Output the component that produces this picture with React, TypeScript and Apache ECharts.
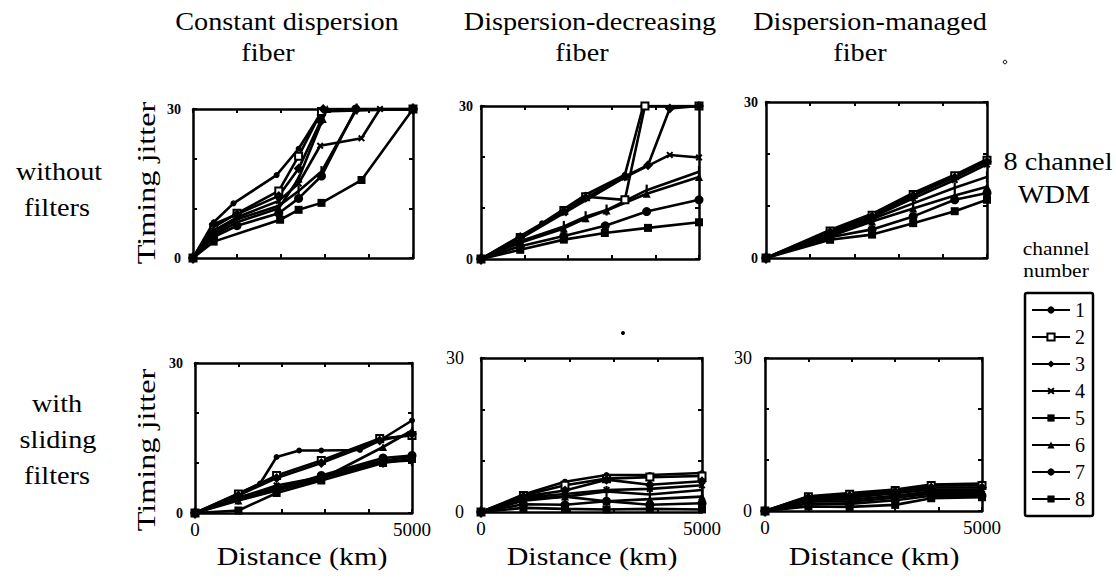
import React, { useEffect, useRef } from "react";
import * as echarts from "echarts";

// ---------- data ----------
const channels = ["1", "2", "3", "4", "5", "6", "7", "8"];
const xTickLabels = ["0", "5000"];
const yTickLabels = ["0", "30"];

const columnTitles = [
  ["Constant dispersion", "fiber"],
  ["Dispersion-decreasing", "fiber"],
  ["Dispersion-managed", "fiber"],
];
const rowTitles = [
  ["without", "filters"],
  ["with", "sliding", "filters"],
];

// [distance km, timing jitter] per channel
const constantNoFilter = [
  [[0, 0], [470, 7.2], [920, 11], [1900, 16.7], [2400, 22], [2880, 28.8], [2950, 30], [5000, 30]],
  [[0, 0], [470, 6.2], [1000, 9], [1950, 13.5], [2400, 20.5], [2920, 29.5], [5000, 30]],
  [[0, 0], [470, 6.8], [1000, 8.8], [1950, 12.5], [2400, 18], [2900, 27.5], [2960, 30], [5000, 30]],
  [[0, 0], [470, 5.5], [1000, 8.2], [1950, 11.5], [2400, 15], [2890, 22.6], [3830, 24.1], [4250, 30], [5000, 30]],
  [[0, 0], [470, 5], [1000, 7.8], [1950, 10.5], [2400, 13.5], [2920, 17.4], [3720, 30], [5000, 30]],
  [[0, 0], [470, 4.5], [1000, 7.2], [1950, 10], [2400, 16], [2950, 28], [3050, 30], [5000, 30]],
  [[0, 0], [470, 4.2], [1000, 6.5], [1950, 9], [2400, 12], [2920, 16.5], [3700, 30], [5000, 30]],
  [[0, 0], [470, 3.3], [1980, 7.7], [2400, 9.7], [2920, 11.1], [3830, 15.7], [5000, 30]],
];
const decreasingNoFilter = [
  [[0, 0], [900, 4.5], [1400, 7], [1900, 9.8], [2400, 12.6], [3300, 16.5], [3720, 30], [5000, 30]],
  [[0, 0], [900, 4.2], [1900, 9.5], [2400, 12.2], [3300, 11.6], [3760, 30], [5000, 30]],
  [[0, 0], [900, 4.3], [1900, 9.4], [2400, 12], [3300, 16.2], [3830, 18.4], [4330, 29.5], [5000, 30]],
  [[0, 0], [900, 4], [1900, 9], [3300, 16], [4330, 20.4], [5000, 19.9]],
  [[0, 0], [900, 3.5], [1900, 6.4], [2400, 8.3], [2880, 9.6], [3800, 13.5], [5000, 17.1]],
  [[0, 0], [900, 3.2], [1900, 6], [2400, 8], [2880, 9.5], [3800, 12.8], [5000, 16.1]],
  [[0, 0], [900, 2.5], [1900, 4.5], [2850, 6.5], [3800, 9.3], [5000, 11.6]],
  [[0, 0], [900, 1.8], [1900, 3.8], [2840, 5.1], [3830, 6.1], [5000, 7.2]],
];
const managedNoFilter = [
  [[0, 0], [1450, 5.4], [2400, 8.5], [3330, 12.5], [4270, 16], [5000, 19]],
  [[0, 0], [1450, 5.2], [2400, 8.2], [3330, 12.2], [4270, 15.8], [5000, 18.8]],
  [[0, 0], [1450, 5], [2400, 8], [3330, 12], [4270, 15.5], [5000, 18.5]],
  [[0, 0], [1450, 4.8], [2400, 7.8], [3330, 11.5], [4270, 15], [5000, 18]],
  [[0, 0], [1450, 4.5], [2400, 7.5], [3330, 10.5], [4270, 13.5], [5000, 15.6]],
  [[0, 0], [1450, 4.2], [2400, 7], [3330, 9.5], [4270, 12], [5000, 13.7]],
  [[0, 0], [1450, 4], [2400, 5.5], [3330, 8], [4270, 11.2], [5000, 12.5]],
  [[0, 0], [1450, 3.5], [2400, 4.5], [3330, 6.7], [4270, 9], [5000, 11.2]],
];
const constantSliding = [
  [[0, 0], [1000, 3.9], [1500, 5.9], [1880, 11.2], [2400, 12.5], [2910, 12.5], [3800, 12.6], [4256, 14.5], [5000, 18.5]],
  [[0, 0], [1000, 3.8], [1880, 7.5], [2910, 10.5], [4256, 14.9], [5000, 15.5]],
  [[0, 0], [1000, 3.5], [1880, 7], [2910, 10], [4256, 14.5], [5000, 15.8]],
  [[0, 0], [1000, 3], [1880, 5.5], [2910, 7.2], [4333, 10.5], [5000, 11.2]],
  [[0, 0], [1000, 2.8], [1880, 5], [2910, 7], [4333, 10.2], [5000, 10.5]],
  [[0, 0], [1000, 2.5], [1880, 4.5], [2910, 6.8], [4333, 13.2], [5000, 16.5]],
  [[0, 0], [1000, 3.2], [1880, 4.8], [2910, 7.5], [4333, 11], [5000, 11.5]],
  [[0, 0], [1000, 0.5], [1880, 4], [2910, 6.5], [4333, 10], [5000, 10.8]],
];
const decreasingSliding = [
  [[0, 0], [960, 3.4], [1900, 5.9], [2840, 7.2], [3820, 7.2], [5000, 7.6]],
  [[0, 0], [960, 3.2], [1900, 5.2], [2840, 6.5], [3820, 6.8], [5000, 7]],
  [[0, 0], [960, 3], [1900, 4.2], [2840, 6.3], [3820, 5.3], [5000, 6]],
  [[0, 0], [960, 2.8], [1900, 3.5], [2840, 4.3], [3820, 4.5], [5000, 5.2]],
  [[0, 0], [960, 2.5], [1900, 3], [2840, 4], [3820, 3.4], [5000, 4.3]],
  [[0, 0], [960, 2.2], [1900, 3], [2840, 2.1], [3820, 2.5], [5000, 3]],
  [[0, 0], [960, 1.5], [1900, 1.4], [2840, 2.1], [3820, 1.4], [5000, 1.7]],
  [[0, 0], [960, 0.8], [1900, 0.6], [2840, 0.5], [3820, 0.6], [5000, 0.5]],
];
const managedSliding = [
  [[0, 0], [1000, 2.9], [1950, 3.5], [3000, 4.2], [3830, 5.2], [5000, 5.4]],
  [[0, 0], [1000, 2.8], [1950, 3.3], [3000, 4], [3830, 5], [5000, 5]],
  [[0, 0], [1000, 2.6], [1950, 3], [3000, 3.8], [3830, 4.6], [5000, 4.6]],
  [[0, 0], [1000, 2.5], [1950, 2.6], [3000, 3.5], [3830, 4.2], [5000, 4.2]],
  [[0, 0], [1000, 2.3], [1950, 2.2], [3000, 3], [3830, 3.8], [5000, 3.8]],
  [[0, 0], [1000, 2], [1950, 1.8], [3000, 2.6], [3830, 3.4], [5000, 3.4]],
  [[0, 0], [1000, 1.5], [1950, 1.4], [3000, 2.1], [3830, 3], [5000, 3]],
  [[0, 0], [1000, 0.9], [1950, 0.8], [3000, 1.2], [3830, 2.5], [5000, 2.7]],
];

const panels = [
  constantNoFilter,
  decreasingNoFilter,
  managedNoFilter,
  constantSliding,
  decreasingSliding,
  managedSliding,
];

// ---------- layout / style ----------
const SERIF = "Liberation Serif";
const grids = [
  { left: 193, top: 109, width: 220, height: 149 },
  { left: 481, top: 106, width: 218, height: 153 },
  { left: 766, top: 102, width: 221, height: 156 },
  { left: 195, top: 363, width: 217, height: 150 },
  { left: 481, top: 358, width: 221, height: 154 },
  { left: 765, top: 358, width: 217, height: 153 },
];
const yLabelMargin = [12, 8, 8, 12, 17, 13];

const symbols: any[] = [
  { symbol: "circle", size: 6 },
  { symbol: "emptyRect", size: 7 },
  { symbol: "diamond", size: 10 },
  { symbol: "path://M0,2L2,0L5,3L8,0L10,2L7,5L10,8L8,10L5,7L2,10L0,8L3,5Z", size: 7 },
  { symbol: "path://M4,0L6,0L6,10L4,10Z", size: 11, keep: true },
  { symbol: "triangle", size: 8 },
  { symbol: "circle", size: 9 },
  { symbol: "rect", size: 8 },
];

const axisLine = { show: true, onZero: false, lineStyle: { color: "#000", width: 2.5 } };
const axisTick = { show: true, inside: true, length: 4, lineStyle: { color: "#000", width: 2 } };

function txt(text: string, x: number, y: number, size: number, sx: number, extra: any = {}) {
  return {
    type: "text",
    x,
    y,
    scaleX: sx,
    z: 100,
    style: {
      text,
      fontFamily: SERIF,
      fontSize: size,
      fill: "#000",
      textAlign: "center",
      textVerticalAlign: "middle",
    },
    ...extra,
  };
}

export default function App() {
  const ref = useRef<HTMLDivElement>(null);

  useEffect(() => {
    if (!ref.current) return;
    const chart = echarts.init(ref.current, null, { renderer: "svg" });

    const xAxes: any[] = [];
    const yAxes: any[] = [];
    grids.forEach((_, i) => {
      const bottomRow = i >= 3;
      xAxes.push({
        type: "value",
        gridIndex: i,
        min: 0,
        max: 5000,
        interval: 1000,
        position: "bottom",
        axisLine,
        axisTick,
        splitLine: { show: false },
        axisLabel: bottomRow
          ? {
              show: true,
              color: "#000",
              fontFamily: SERIF,
              fontSize: 19,
              margin: 7,
              formatter: (v: number) => (xTickLabels.includes(String(v)) ? String(v) : ""),
            }
          : { show: false },
      });
      yAxes.push({
        type: "value",
        gridIndex: i,
        min: 0,
        max: 30,
        interval: 10,
        position: "left",
        axisLine,
        axisTick,
        splitLine: { show: false },
        axisLabel: {
          show: true,
          color: "#000",
          fontFamily: SERIF,
          fontSize: i <= 3 ? 14 : 18,
          fontWeight: i <= 3 ? "bold" : "normal",
          margin: yLabelMargin[i],
          formatter: (v: number) => (yTickLabels.includes(String(v)) ? String(v) : ""),
        },
      });
    });
    grids.forEach((_, i) => {
      xAxes.push({
        type: "value",
        gridIndex: i,
        min: 0,
        max: 5000,
        interval: 1000,
        position: "top",
        axisLine,
        axisTick,
        splitLine: { show: false },
        axisLabel: { show: false },
      });
      yAxes.push({
        type: "value",
        gridIndex: i,
        min: 0,
        max: 30,
        interval: 10,
        position: "right",
        axisLine,
        axisTick,
        splitLine: { show: false },
        axisLabel: { show: false },
      });
    });

    const series: any[] = [];
    panels.forEach((panel, p) => {
      panel.forEach((pts, c) => {
        series.push({
          type: "line",
          name: channels[c],
          xAxisIndex: p,
          yAxisIndex: p,
          data: pts,
          clip: true,
          symbol: symbols[c].symbol,
          symbolSize: symbols[c].size,
          symbolKeepAspect: !!symbols[c].keep,
          showSymbol: true,
          color: "#000",
          itemStyle: { color: "#000", borderColor: "#000", borderWidth: symbols[c].symbol === "emptyRect" ? 1.5 : 0 },
          lineStyle: { color: "#000", width: 2.6 },
        });
      });
    });

    const graphic: any[] = [];
    const colCenters = [
      [287, 268],
      [590, 582],
      [870, 860],
    ];
    columnTitles.forEach((lines, i) => {
      graphic.push(txt(lines[0], colCenters[i][0], 22, 25, 1.13));
      graphic.push(txt(lines[1], colCenters[i][1], 53, 25, 1.13));
    });
    graphic.push(txt(rowTitles[0][0], 59, 172, 25, 1.13));
    graphic.push(txt(rowTitles[0][1], 57, 208, 25, 1.13));
    graphic.push(txt(rowTitles[1][0], 57, 404, 25, 1.13));
    graphic.push(txt(rowTitles[1][1], 58, 440, 25, 1.13));
    graphic.push(txt(rowTitles[1][2], 57, 476, 25, 1.13));
    graphic.push(txt("Timing jitter", 146, 183, 26, 1.24, { rotation: Math.PI / 2 }));
    graphic.push(txt("Timing jitter", 146, 450, 26, 1.24, { rotation: Math.PI / 2 }));
    [302, 592, 874].forEach((cx) => graphic.push(txt("Distance (km)", cx, 556, 25, 1.2)));
    graphic.push(txt("8 channel", 1058, 162, 25, 1.13));
    graphic.push(txt("WDM", 1054, 195, 25, 1.13));
    graphic.push(txt("channel", 1056, 248, 19, 1.13));
    graphic.push(txt("number", 1056, 270, 19, 1.13));
    graphic.push({ type: "circle", shape: { cx: 1005, cy: 62, r: 1.8 }, style: { fill: "#fff", stroke: "#000", lineWidth: 1 } });
    graphic.push({ type: "circle", shape: { cx: 623, cy: 333, r: 2 }, style: { fill: "#000" } });

    chart.setOption({
      animation: false,
      backgroundColor: "#fff",
      textStyle: { fontFamily: SERIF },
      grid: grids.map((g) => ({ ...g, containLabel: false })),
      xAxis: xAxes,
      yAxis: yAxes,
      legend: {
        data: channels,
        orient: "vertical",
        left: 1025,
        top: 293,
        itemWidth: 38,
        itemHeight: 9,
        itemGap: 7,
        padding: [7, 8, 7, 6],
        borderColor: "#000",
        borderWidth: 2.5,
        borderRadius: 2,
        selectedMode: false,
        textStyle: { fontFamily: SERIF, fontSize: 20, color: "#000", lineHeight: 14 },
      },
      series,
      graphic,
    });

    return () => chart.dispose();
  }, []);

  return (
    <div
      ref={ref}
      style={{ position: "fixed", left: 0, top: 0, width: 1116, height: 579, background: "#fff" }}
    />
  );
}
